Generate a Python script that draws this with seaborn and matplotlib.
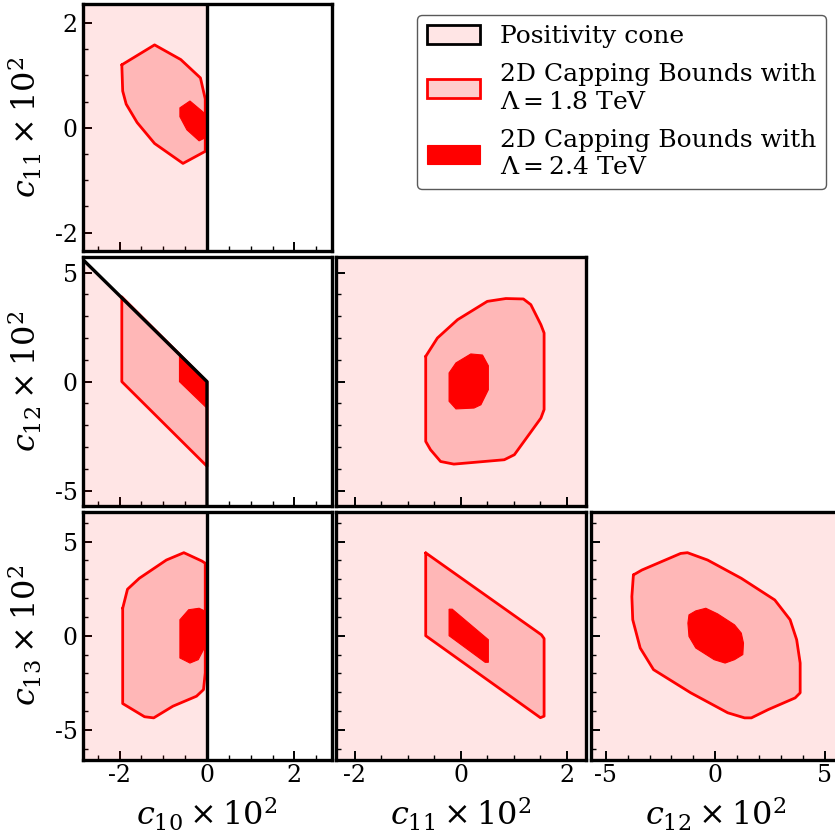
import numpy as np
import matplotlib
matplotlib.use("Agg")
import matplotlib.pyplot as plt
from matplotlib.patches import Patch
from matplotlib.ticker import MultipleLocator
import seaborn as sns

# axis ranges (units of 10^-2)
lim = {"c10": 2.85, "c11": 2.35, "c12": 5.7, "c13": 6.57}
major = {"c10": 2, "c11": 2, "c12": 5, "c13": 5}
minor = {"c10": 0.5, "c11": 0.5, "c12": 1, "c13": 1}
labels = {"c10": r"$c_{10} \times 10^2$", "c11": r"$c_{11} \times 10^2$",
          "c12": r"$c_{12} \times 10^2$", "c13": r"$c_{13} \times 10^2$"}

# positivity cone boundaries (x, y) per panel, allowed side is to the left
cone_c10_c11_x = [0, 0]
cone_c10_c11_y = [-10, 10]
cone_c10_c12_x = [-5, 0, 0]
cone_c10_c12_y = [9.85, 0, -10]
cone_c10_c13_x = [0, 0]
cone_c10_c13_y = [-10, 10]

# 2D capping bounds, Lambda = 1.8 TeV (outer) and 2.4 TeV (inner)
c10_c11_outer_x = [-1.95, -1.93, -1.85, -1.6, -1.2, -0.55, -0.04, -0.04, -0.15, -0.6, -1.2]
c10_c11_outer_y = [1.2, 0.7, 0.45, 0.1, -0.3, -0.68, -0.45, 0.55, 0.95, 1.3, 1.58]
c10_c11_inner_x = [-0.62, -0.39, -0.09, -0.04, -0.04, -0.18, -0.46, -0.62]
c10_c11_inner_y = [0.38, 0.51, 0.3, 0.25, -0.19, -0.25, -0.04, 0.21]

c10_c12_outer_x = [-1.95, 0, 0, -1.95]
c10_c12_outer_y = [3.88, 0, -3.88, 0]
c10_c12_inner_x = [-0.63, 0, 0, -0.63]
c10_c12_inner_y = [1.22, 0, -1.22, 0]

c10_c13_outer_x = [-1.93, -1.82, -1.55, -0.93, -0.53, -0.12, -0.04, -0.04, -0.08, -0.24, -0.78, -1.22, -1.43, -1.93]
c10_c13_outer_y = [1.46, 2.47, 3.05, 4.02, 4.41, 3.97, 3.85, -1.97, -2.86, -3.21, -3.74, -4.36, -4.3, -3.6]
c10_c13_inner_x = [-0.62, -0.42, -0.18, -0.04, -0.04, -0.2, -0.39, -0.62]
c10_c13_inner_y = [0.85, 1.38, 1.46, 1.3, -0.56, -1.27, -1.45, -1.18]

c11_c12_outer_x = [-0.66, -0.44, -0.06, 0.5, 0.85, 1.18, 1.32, 1.51, 1.57, 1.57, 1.51, 1.01, 0.82, 0.44, -0.13, -0.38, -0.57, -0.66]
c11_c12_outer_y = [1.16, 2.0, 2.84, 3.68, 3.81, 3.79, 3.53, 2.61, 2.23, -1.28, -1.67, -3.35, -3.58, -3.66, -3.78, -3.66, -3.12, -2.74]
c11_c12_inner_x = [-0.22, -0.09, 0.19, 0.41, 0.52, 0.52, 0.38, 0.25, -0.09, -0.22]
c11_c12_inner_y = [0.4, 0.86, 1.27, 1.22, 0.73, -0.37, -1.06, -1.21, -1.25, -0.9]

c11_c13_outer_x = [-0.66, 1.52, 1.57, 1.57, 1.5, -0.66]
c11_c13_outer_y = [4.4, 0.05, -0.15, -4.27, -4.35, 0]
c11_c13_inner_x = [-0.22, -0.16, 0.52, 0.52, 0.46, -0.22]
c11_c13_inner_y = [1.41, 1.41, -0.21, -1.41, -1.41, 0]

c12_c13_outer_x = [-3.74, -3.35, -1.58, -1.27, -0.35, 1.19, 2.72, 3.42, 3.72, 3.88, 3.88, 3.65, 2.42, 1.65, 1.34, 0.57, -1.12, -2.82, -3.43, -3.77, -3.81]
c12_c13_outer_y = [3.23, 3.49, 4.37, 4.41, 4.02, 3.05, 1.9, 0.85, -0.21, -1.45, -3.03, -3.3, -3.92, -4.36, -4.36, -4.09, -3.03, -1.8, -0.65, 0.85, 2.08]
c12_c13_inner_x = [-1.2, -0.89, -0.43, 0.11, 0.88, 1.19, 1.29, 1.26, 0.88, 0.45, -0.05, -0.89, -1.2, -1.25]
c12_c13_inner_y = [1.11, 1.32, 1.46, 1.16, 0.58, 0.14, -0.39, -1.0, -1.27, -1.45, -1.27, -0.65, -0.04, 0.67]

sns.set_style("ticks")
plt.rcParams["font.family"] = ["DejaVu Serif"]
plt.rcParams["mathtext.fontset"] = "dejavuserif"
plt.rcParams["axes.unicode_minus"] = False
for k in ["text.color", "axes.labelcolor", "xtick.color", "ytick.color"]:
    plt.rcParams[k] = "black"

pink = (1, 0.0, 0.0, 0.1)
light = (1, 0.0, 0.0, 0.2)

W, H = 835, 836
fig = plt.figure(figsize=(W / 100, H / 100), dpi=100)

cols = [(82.5, 249), (336, 249.5), (590.5, 249.5)]
rows = [(4.5, 246.5), (257.3, 248.7), (512, 247.5)]
xvars = ["c10", "c11", "c12"]
yvars = ["c11", "c12", "c13"]

data = {
    ("c10", "c11"): (c10_c11_outer_x, c10_c11_outer_y, c10_c11_inner_x, c10_c11_inner_y),
    ("c10", "c12"): (c10_c12_outer_x, c10_c12_outer_y, c10_c12_inner_x, c10_c12_inner_y),
    ("c10", "c13"): (c10_c13_outer_x, c10_c13_outer_y, c10_c13_inner_x, c10_c13_inner_y),
    ("c11", "c12"): (c11_c12_outer_x, c11_c12_outer_y, c11_c12_inner_x, c11_c12_inner_y),
    ("c11", "c13"): (c11_c13_outer_x, c11_c13_outer_y, c11_c13_inner_x, c11_c13_inner_y),
    ("c12", "c13"): (c12_c13_outer_x, c12_c13_outer_y, c12_c13_inner_x, c12_c13_inner_y),
}
cones = {
    ("c10", "c11"): (cone_c10_c11_x, cone_c10_c11_y),
    ("c10", "c12"): (cone_c10_c12_x, cone_c10_c12_y),
    ("c10", "c13"): (cone_c10_c13_x, cone_c10_c13_y),
}


def closed(v):
    return list(v) + [v[0]]


for i, yv in enumerate(yvars):
    for j, xv in enumerate(xvars):
        if j > i:
            continue
        l, w = cols[j]
        t, h = rows[i]
        ax = fig.add_axes([l / W, 1 - (t + h) / H, w / W, h / H])
        key = (xv, yv)

        # positivity cone: fill everything left of the boundary
        if key in cones:
            cx, cy = cones[key]
            ax.fill(cx + [-10, -10], cy + [cy[-1], cy[0]], color=pink, lw=0)
            sns.lineplot(x=cx, y=cy, sort=False, estimator=None, color="black", lw=2.4, ax=ax, zorder=4)
        else:
            ax.set_facecolor(pink)

        ox, oy, ix, iy = data[key]
        ax.fill(ox, oy, color=light, lw=0, zorder=2)
        sns.lineplot(x=closed(ox), y=closed(oy), sort=False, estimator=None, color="red", lw=2, ax=ax, zorder=3)
        ax.fill(ix, iy, color="red", lw=0.8, ec="red", zorder=3)

        ax.set_xlim(-lim[xv], lim[xv])
        ax.set_ylim(-lim[yv], lim[yv])
        ax.xaxis.set_major_locator(MultipleLocator(major[xv]))
        ax.xaxis.set_minor_locator(MultipleLocator(minor[xv]))
        ax.yaxis.set_major_locator(MultipleLocator(major[yv]))
        ax.yaxis.set_minor_locator(MultipleLocator(minor[yv]))
        ax.tick_params(which="major", direction="in", length=6.5, width=1.4,
                       labelsize=17, top=False, right=False)
        ax.tick_params(which="minor", direction="in", length=3.5, width=1.0,
                       top=False, right=False)
        for s in ax.spines.values():
            s.set_linewidth(2.4)
            s.set_color("black")
            s.set_zorder(5)
        ax.set_xlabel("")
        ax.set_ylabel("")
        if i == 2:
            ax.set_xlabel(labels[xv], fontsize=23, labelpad=6)
        else:
            ax.tick_params(labelbottom=False)
        if j == 0:
            ax.set_ylabel(labels[yv], fontsize=23, labelpad=8)
        else:
            ax.tick_params(labelleft=False)

handles = [
    Patch(facecolor=pink, edgecolor="black", lw=2),
    Patch(facecolor=light, edgecolor="red", lw=2),
    Patch(facecolor="red", edgecolor="red", lw=0.8),
]
names = ["Positivity cone",
         "2D Capping Bounds with\n$\\Lambda = 1.8$ TeV",
         "2D Capping Bounds with\n$\\Lambda = 2.4$ TeV"]
leg = fig.legend(handles, names, loc="upper right", bbox_to_anchor=(826 / W, 1 - 15 / H),
                 borderaxespad=0, fontsize=18, handlelength=2.1, handleheight=0.8,
                 labelspacing=0.6, frameon=True, framealpha=1, edgecolor="0.35",
                 fancybox=True)
for txt in leg.get_texts():
    txt.set_linespacing(1.25)

fig.savefig("out.png", dpi=100)
